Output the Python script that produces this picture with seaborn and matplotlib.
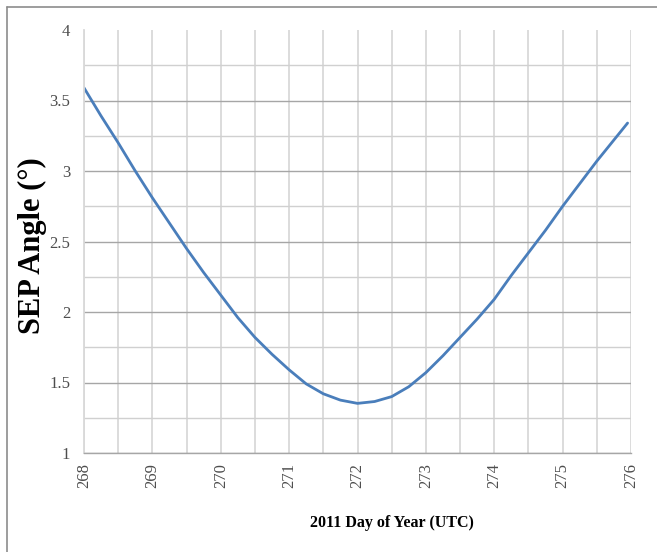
import matplotlib
matplotlib.use("Agg")
import matplotlib.pyplot as plt
from matplotlib.lines import Line2D
from matplotlib.ticker import MultipleLocator
import pandas as pd
import seaborn as sns

# values
day_of_year = [268.00, 268.25, 268.50, 268.75, 269.00, 269.25, 269.50, 269.75,
               270.00, 270.25, 270.50, 270.75, 271.00, 271.25, 271.50, 271.75,
               272.00, 272.25, 272.50, 272.75, 273.00, 273.25, 273.50, 273.75,
               274.00, 274.25, 274.50, 274.75, 275.00, 275.25, 275.50, 275.75,
               275.95]
sep_angle = [3.59, 3.39, 3.20, 3.00, 2.81, 2.63, 2.45, 2.28,
             2.12, 1.96, 1.82, 1.70, 1.59, 1.49, 1.42, 1.375,
             1.352, 1.365, 1.40, 1.47, 1.57, 1.69, 1.82, 1.95,
             2.09, 2.26, 2.42, 2.58, 2.75, 2.91, 3.07, 3.22,
             3.34]
x_ticks = [268, 269, 270, 271, 272, 273, 274, 275, 276]
y_ticks = [1, 1.5, 2, 2.5, 3, 3.5, 4]
y_tick_labels = ["1", "1.5", "2", "2.5", "3", "3.5", "4"]

df = pd.DataFrame({"day": day_of_year, "angle": sep_angle})

sns.set_theme(style="white")
plt.rcParams["font.family"] = ["Liberation Serif", "DejaVu Serif"]

fig = plt.figure(figsize=(6.57, 5.52), dpi=100)
ax = fig.add_axes([84 / 657, 1 - 453 / 552, 547 / 657, 423 / 552])

sns.lineplot(data=df, x="day", y="angle", ax=ax, color="#4a7ebb", linewidth=2.0)

ax.set_xlim(268, 276)
ax.set_ylim(1, 4)
ax.set_xticks(x_ticks)
ax.set_xticklabels([str(t) for t in x_ticks], rotation=90)
ax.xaxis.set_minor_locator(MultipleLocator(0.5))
ax.set_yticks(y_ticks)
ax.set_yticklabels(y_tick_labels)
ax.yaxis.set_minor_locator(MultipleLocator(0.25))

ax.grid(False)
ax.grid(axis="x", which="both", color="#d9d9d9", linewidth=1.3)
ax.grid(axis="y", which="major", color="#a6a6a6", linewidth=1.0)
ax.grid(axis="y", which="minor", color="#d0d0d0", linewidth=1.0)
ax.set_axisbelow(True)
# no gridline along the top edge in the original
ax.yaxis.get_major_ticks()[-1].gridline.set_visible(False)

ax.tick_params(axis="both", which="both", length=0)
ax.tick_params(axis="y", labelsize=12, labelcolor="#4d4d4d", pad=10)
ax.tick_params(axis="x", labelsize=12, labelcolor="#4d4d4d", pad=7)

for side in ["top", "right"]:
    ax.spines[side].set_visible(False)
ax.spines["left"].set_color("#d9d9d9")
ax.spines["left"].set_linewidth(1.3)
ax.spines["bottom"].set_color("#a6a6a6")
ax.spines["bottom"].set_linewidth(1.0)

ax.set_ylabel("SEP Angle (°)", fontsize=22, fontweight="bold", color="black")
ax.yaxis.set_label_coords(-0.068, 0.49)
ax.set_xlabel("2011 Day of Year (UTC)", fontsize=11.5, fontweight="bold", color="black")
ax.xaxis.set_label_coords(0.563, -0.147)

# outer chart frame (only left and top edges are inside the picture)
fig.add_artist(Line2D([6.5 / 657, 6.5 / 657], [0, 1 - 6.5 / 552],
                      transform=fig.transFigure, color="#8c8c8c", linewidth=1.2))
fig.add_artist(Line2D([6.5 / 657, 1], [1 - 6.5 / 552, 1 - 6.5 / 552],
                      transform=fig.transFigure, color="#8c8c8c", linewidth=1.2))

fig.savefig("out.png", dpi=100)
plt.close(fig)
